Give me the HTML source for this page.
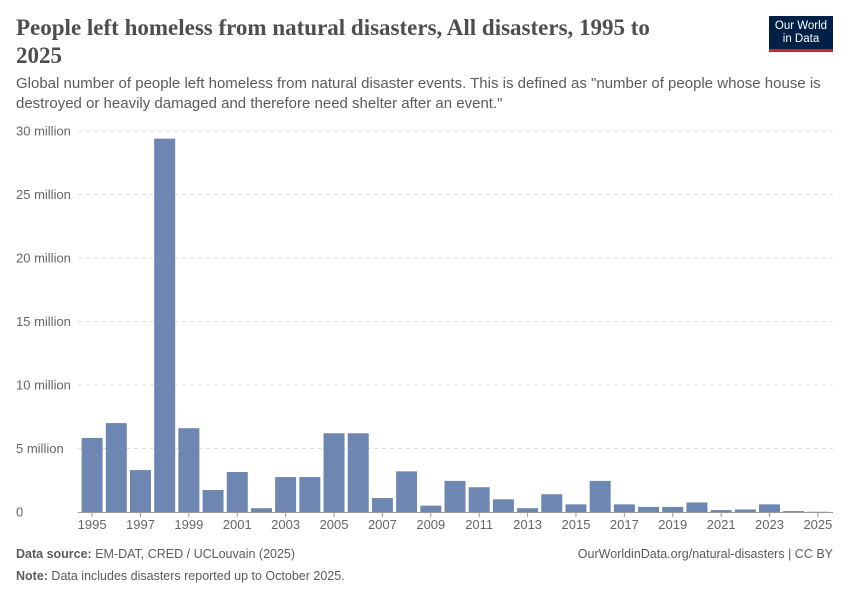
<!DOCTYPE html>
<html><head><meta charset="utf-8"><style>
body{margin:0;width:850px;height:600px;background:#fff;font-family:"Liberation Sans",sans-serif;position:relative;overflow:hidden}
.t{position:absolute;left:16px;top:14px;width:650px;font-family:"Liberation Serif",serif;font-size:23px;line-height:28px;color:#4e4e4e;font-weight:bold}
.s{position:absolute;left:16px;top:74px;width:820px;font-size:15px;line-height:20px;color:#5b5b5b}
.logo{position:absolute;left:769px;top:16px;width:64px;height:36px;background:#002147;color:#fff;font-size:11.5px;line-height:13px;text-align:center;border-bottom:3px solid #ce261e;box-sizing:border-box;padding-top:4px}
.f{position:absolute;font-size:12.5px;color:#5b5b5b}
</style></head><body>
<div class="t">People left homeless from natural disasters, All disasters, 1995 to 2025</div>
<div class="s">Global number of people left homeless from natural disaster events. This is defined as "number of people whose house is destroyed or heavily damaged and therefore need shelter after an event."</div>
<div class="logo">Our World<br>in Data</div>
<svg id="c" width="850" height="600" style="position:absolute;left:0;top:0"></svg>
<div class="f" style="left:16px;top:547px"><b>Data source:</b> EM-DAT, CRED / UCLouvain (2025)</div>
<div class="f" style="right:17px;top:547px">OurWorldinData.org/natural-disasters | CC BY</div>
<div class="f" style="left:16px;top:569px"><b>Note:</b> Data includes disasters reported up to October 2025.</div>
<script>
const years=[1995,1996,1997,1998,1999,2000,2001,2002,2003,2004,2005,2006,2007,2008,2009,2010,2011,2012,2013,2014,2015,2016,2017,2018,2019,2020,2021,2022,2023,2024,2025];
const values=[5.83,7.0,3.3,29.4,6.6,1.73,3.15,0.3,2.75,2.75,6.2,6.2,1.1,3.2,0.5,2.45,1.95,1.0,0.3,1.4,0.6,2.45,0.6,0.4,0.4,0.75,0.15,0.2,0.6,0.07,0.02];
const yTicks=[0,5,10,15,20,25,30];
const yTickLabels=["0","5 million","10 million","15 million","20 million","25 million","30 million"];
const svg=document.getElementById('c');const NS='http://www.w3.org/2000/svg';
const y0=512,yTop=131,yMax=30,x0=80,x1=830;
const y=v=>y0-(v/yMax)*(y0-yTop);
const step=(x1-x0)/years.length;
const xc=i=>x0+step*(i+0.5);
function mk(t,a){const e=document.createElementNS(NS,t);for(const k in a)e.setAttribute(k,a[k]);svg.appendChild(e);return e;}
yTicks.forEach((v,i)=>{
 if(v>0){const l=mk('line',{x1:78,x2:833,y1:y(v),y2:y(v),stroke:'#ddd','stroke-dasharray':'4,4'});
 
 }
 const t=mk('text',{x:16,y:y(v)+4.5,'font-size':13,fill:'#666'});t.textContent=yTickLabels[i];
 
 
});
values.forEach((v,i)=>{
 const r=mk('rect',{x:xc(i)-10.5,y:y(v),width:21,height:y0-y(v),fill:'#6e86b2'});
 
 
 if(i%2==0){
  mk('line',{x1:xc(i),x2:xc(i),y1:y0,y2:y0+5,stroke:'#999'});
  const t=mk('text',{x:xc(i),y:y0+17,'font-size':13,fill:'#666','text-anchor':'middle'});t.textContent=years[i];
  
  
 }
});
const ax=mk('line',{x1:78,x2:833,y1:y0+0.5,y2:y0+0.5,stroke:'#999'});


</script>
</body></html>
